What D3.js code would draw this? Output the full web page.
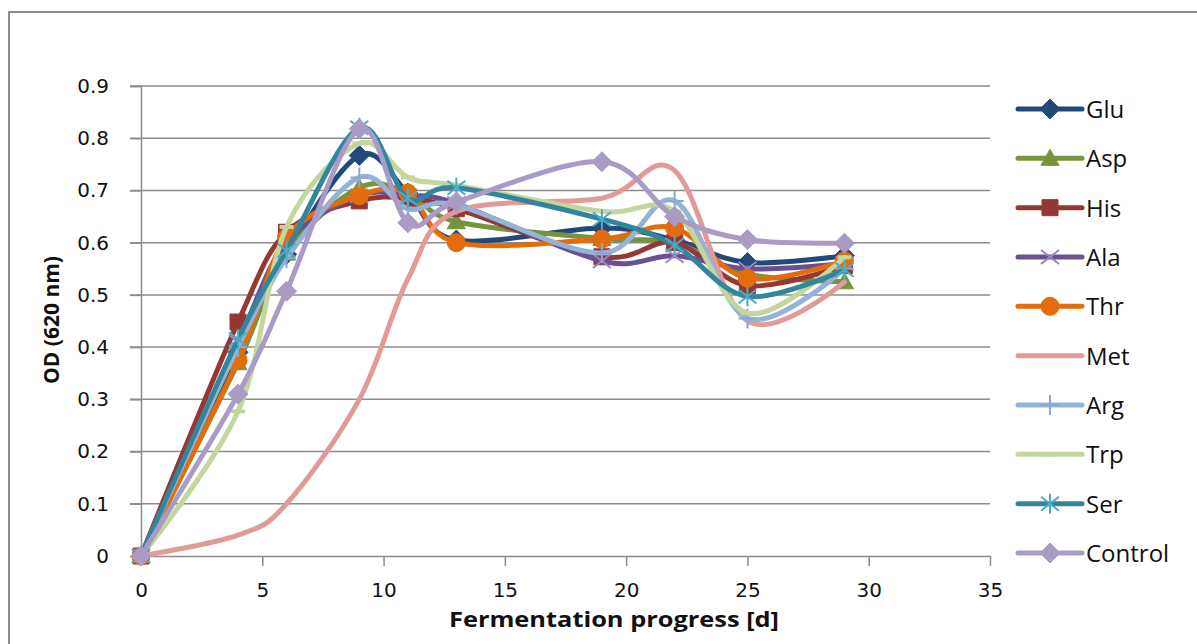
<!DOCTYPE html>
<html lang="en">
<head>
    <meta charset="UTF-8">
    <title>OD (620 nm) vs Fermentation progress</title>
    <style>
        body, html {
            margin: 0;
            padding: 0;
            background: #fff;
        }
        svg { display: block; }
        .tick-label { font-family: "DejaVu Sans", sans-serif; font-size: 20px; fill: #111; }
        .legend-label { font-family: "Open Sans", sans-serif; font-size: 24px; fill: #111; }
        .axis-title { font-family: "Open Sans", sans-serif; font-size: 21px; font-weight: bold; fill: #111; }
    </style>
    <script src="https://cdn.jsdelivr.net/npm/d3@7"></script>
</head>
<body>
    <div id="chart"></div>
    <script>
        // sampling days
        const days = [0, 4, 6, 9, 11, 13, 19, 22, 25, 29];

        // OD (620 nm) per medium
        const glu     = [0, 0.39, 0.578, 0.767, 0.695, 0.605, 0.628, 0.605, 0.562, 0.575];
        const asp     = [0, 0.37, 0.58, 0.705, 0.695, 0.64, 0.608, 0.6, 0.54, 0.525];
        const his     = [0, 0.448, 0.62, 0.68, 0.685, 0.665, 0.573, 0.6, 0.518, 0.556];
        const ala     = [0, 0.41, 0.6, 0.69, 0.69, 0.675, 0.565, 0.575, 0.55, 0.56];
        const thr     = [0, 0.375, 0.61, 0.69, 0.695, 0.6, 0.607, 0.628, 0.532, 0.565];
        const met     = [0, 0.04, 0.1, 0.3, 0.53, 0.66, 0.685, 0.738, 0.45, 0.525];
        const arg     = [0, 0.4, 0.57, 0.725, 0.665, 0.672, 0.58, 0.68, 0.455, 0.55];
        const trp     = [0, 0.277, 0.63, 0.79, 0.725, 0.71, 0.66, 0.66, 0.465, 0.572];
        const ser     = [0, 0.415, 0.585, 0.82, 0.685, 0.705, 0.645, 0.595, 0.497, 0.548];
        const control = [0, 0.31, 0.507, 0.818, 0.638, 0.678, 0.755, 0.65, 0.606, 0.599];

        const seriesNames = ["Glu", "Asp", "His", "Ala", "Thr", "Met", "Arg", "Trp", "Ser", "Control"];
        const xTicks = [0, 5, 10, 15, 20, 25, 30, 35];
        const yTicks = [0, 0.1, 0.2, 0.3, 0.4, 0.5, 0.6, 0.7, 0.8, 0.9];

        const series = [
            { name: "Glu", values: glu, color: "#23497c", marker: "diamond" },
            { name: "Asp", values: asp, color: "#77933c", marker: "triangle" },
            { name: "His", values: his, color: "#953735", marker: "square" },
            { name: "Ala", values: ala, color: "#6a5093", marker: "x", markerColor: "#9b86c0" },
            { name: "Thr", values: thr, color: "#e46c0a", marker: "circle" },
            { name: "Met", values: met, color: "#e29a99", marker: "none" },
            { name: "Arg", values: arg, color: "#95b3d7", marker: "plus", markerColor: "#8aa8d2" },
            { name: "Trp", values: trp, color: "#c3d69b", marker: "dash" },
            { name: "Ser", values: ser, color: "#31859c", marker: "star", markerColor: "#4bacc6" },
            { name: "Control", values: control, color: "#a99bc6", marker: "diamond" }
        ];

        const width = 1197, height = 644;
        const svg = d3.select("#chart").append("svg")
            .attr("width", width)
            .attr("height", height);

        // outer chart frame (runs off right and bottom edge)
        svg.append("rect")
            .attr("x", 9).attr("y", 12)
            .attr("width", 1220).attr("height", 700)
            .attr("fill", "none")
            .attr("stroke", "#8a8a8a")
            .attr("stroke-width", 2);

        const x = d3.scaleLinear().domain([0, 35]).range([141, 990]);
        const y = d3.scaleLinear().domain([0, 0.9]).range([556, 86]);

        // gridlines
        svg.append("g")
            .selectAll("line")
            .data(yTicks.filter(d => d > 0))
            .enter().append("line")
            .attr("x1", 130).attr("x2", x(35))
            .attr("y1", d => y(d)).attr("y2", d => y(d))
            .attr("stroke", "#8c8c8c")
            .attr("stroke-width", 1.5);

        // y axis
        const yAxis = svg.append("g")
            .attr("transform", `translate(${x(0)},0)`)
            .call(d3.axisLeft(y).tickValues(yTicks).tickSize(11).tickPadding(21)
                .tickFormat(d3.format(".1~f")));
        yAxis.select(".domain").attr("stroke", "#8c8c8c").attr("stroke-width", 1.5);
        yAxis.selectAll(".tick line").attr("stroke", "#8c8c8c").attr("stroke-width", 1.5);
        yAxis.selectAll("text").attr("class", "tick-label").attr("font-size", null).attr("font-family", null);

        // x axis
        const xAxis = svg.append("g")
            .attr("transform", `translate(0,${y(0)})`)
            .call(d3.axisBottom(x).tickValues(xTicks).tickSize(10).tickPadding(17).tickSizeOuter(0));
        xAxis.select(".domain").attr("stroke", "#8c8c8c").attr("stroke-width", 1.5);
        xAxis.selectAll(".tick line").attr("stroke", "#8c8c8c").attr("stroke-width", 1.5);
        xAxis.selectAll("text").attr("class", "tick-label").attr("font-size", null).attr("font-family", null);

        // axis titles
        svg.append("text")
            .attr("class", "axis-title")
            .attr("x", 614).attr("y", 627)
            .attr("text-anchor", "middle")
            .attr("textLength", 330)
            .attr("lengthAdjust", "spacingAndGlyphs")
            .text("Fermentation progress [d]");

        svg.append("text")
            .attr("class", "axis-title")
            .attr("transform", "translate(59,320) rotate(-90)")
            .attr("text-anchor", "middle")
            .text("OD (620 nm)");

        function markerPath(type) {
            switch (type) {
                case "diamond": return "M0,-10L10,0L0,10L-10,0Z";
                case "square": return "M-8,-8H8V8H-8Z";
                case "triangle": return "M0,-9L9,7L-9,7Z";
                case "circle": return d3.symbol(d3.symbolCircle, Math.PI * 81)();
                case "x": return "M-9,-7L9,7M-9,7L9,-7";
                case "plus": return "M-9,0H9M0,-10V10";
                case "star": return "M-9,-7L9,7M-9,7L9,-7M0,-10V10";
                case "dash": return "M-7,0H7";
                default: return null;
            }
        }
        const filled = ["diamond", "square", "triangle", "circle"];

        function drawMarker(g, s) {
            if (s.marker === "none") return g;
            const p = g.append("path").attr("d", markerPath(s.marker));
            if (filled.includes(s.marker)) {
                p.attr("fill", s.color).attr("stroke", s.color).attr("stroke-width", 1);
            } else {
                p.attr("fill", "none")
                    .attr("stroke", s.markerColor || s.color)
                    .attr("stroke-width", s.marker === "dash" ? 4 : 2);
            }
            return p;
        }

        const line = d3.line()
            .x(d => x(d[0]))
            .y(d => y(d[1]))
            .curve(d3.curveCardinal.tension(0));

        const plot = svg.append("g");
        series.forEach(s => {
            const pts = days.map((d, i) => [d, s.values[i]]);
            const g = plot.append("g");
            g.append("path")
                .datum(pts)
                .attr("d", line)
                .attr("fill", "none")
                .attr("stroke", s.color)
                .attr("stroke-width", 5)
                .attr("stroke-linejoin", "round")
                .attr("stroke-linecap", "round");
            pts.forEach(p => {
                const m = g.append("g").attr("transform", `translate(${x(p[0])},${y(p[1])})`);
                drawMarker(m, s);
            });
        });

        // legend
        const legendY = d3.scalePoint().domain(seriesNames).range([109, 553]);
        const legend = svg.append("g");
        series.forEach(s => {
            const row = legend.append("g").attr("transform", `translate(0,${legendY(s.name)})`);
            row.append("line")
                .attr("x1", 1018).attr("x2", 1082)
                .attr("stroke", s.color)
                .attr("stroke-width", 5)
                .attr("stroke-linecap", "round");
            const m = row.append("g").attr("transform", "translate(1050,0)");
            drawMarker(m, s);
            row.append("text")
                .attr("class", "legend-label")
                .attr("x", 1086)
                .attr("y", 9)
                .text(s.name);
        });
    </script>
</body>
</html>
